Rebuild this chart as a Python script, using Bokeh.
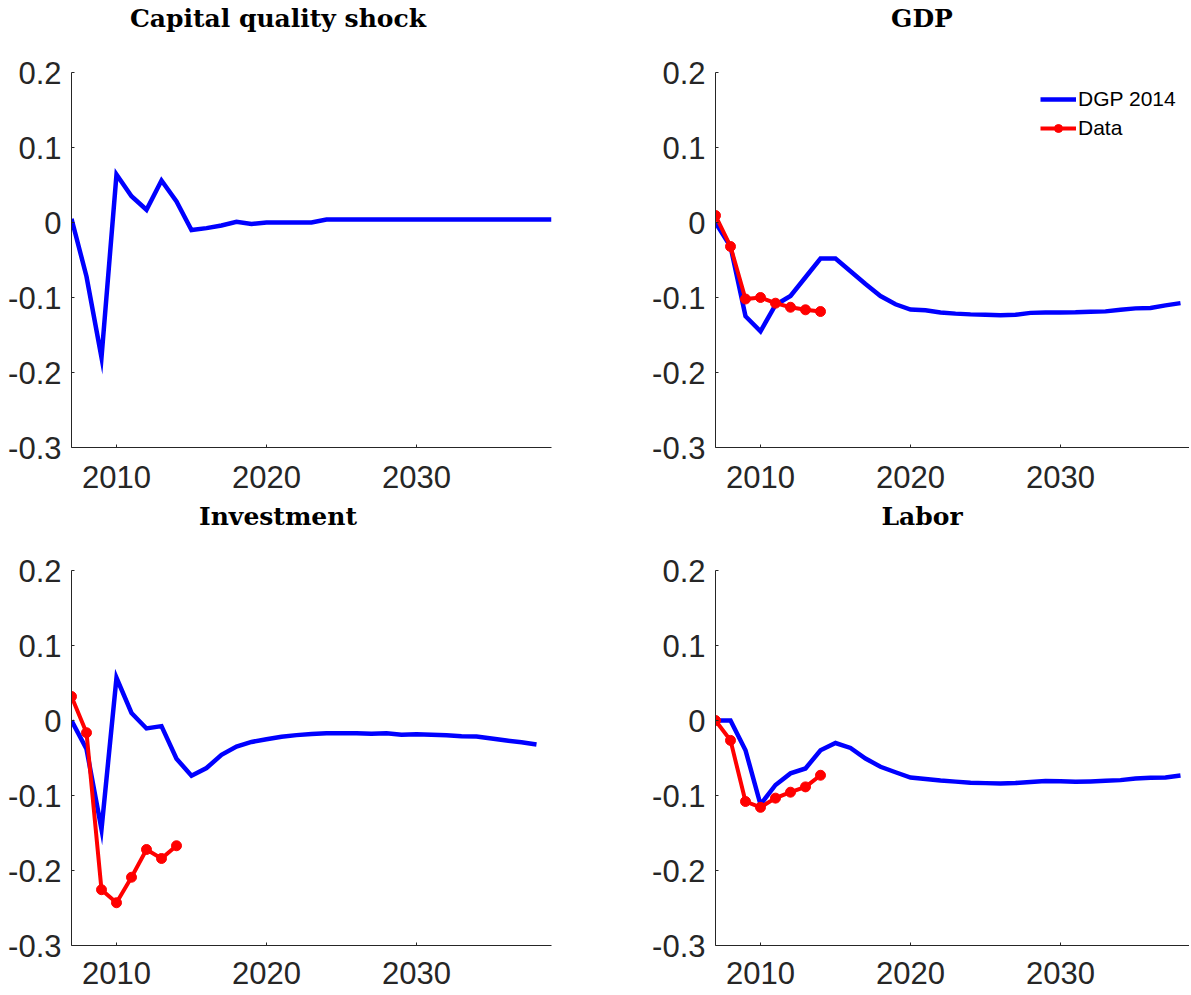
from bokeh.plotting import figure
from bokeh.models import Range1d, FixedTicker, Legend, LegendItem, Label
from bokeh.layouts import column, row
from bokeh.embed import file_html
from bokeh.resources import INLINE

# ---------------- data ----------------
years_model = list(range(2007, 2040))          # 2007 .. 2039
years_data = [2007, 2008, 2009, 2010, 2011, 2012, 2013, 2014]

shock_model = [0.005, -0.072, -0.18, 0.064, 0.035, 0.017, 0.056, 0.028,
               -0.010, -0.0075, -0.004, 0.001, -0.002, 0.0, 0.0, 0.0, 0.0,
               0.004, 0.004, 0.004, 0.004, 0.004, 0.004, 0.004, 0.004,
               0.004, 0.004, 0.004, 0.004, 0.004, 0.004, 0.004, 0.004]

gdp_model = [0.0, -0.032, -0.125, -0.145, -0.110, -0.098, -0.073, -0.048,
             -0.048, -0.065, -0.082, -0.098, -0.109, -0.116, -0.117, -0.120,
             -0.1215, -0.1225, -0.123, -0.1235, -0.123, -0.1205, -0.120, -0.120,
             -0.1198, -0.119, -0.1185, -0.1162, -0.1145, -0.114, -0.1105, -0.1075]

inv_model = [0.0, -0.038, -0.145, 0.057, 0.010, -0.0106, -0.0075, -0.051,
             -0.0736, -0.0634, -0.0458, -0.0348, -0.0286, -0.025, -0.0216, -0.0195,
             -0.018, -0.017, -0.017, -0.017, -0.0175, -0.017, -0.019, -0.0183,
             -0.019, -0.0197, -0.021, -0.0214, -0.024, -0.0267, -0.029, -0.032]

lab_model = [0.0, 0.0, -0.0396, -0.112, -0.086, -0.0705, -0.064, -0.0396,
             -0.030, -0.0366, -0.0507, -0.0617, -0.069, -0.076, -0.078, -0.080,
             -0.0815, -0.083, -0.0835, -0.0839, -0.0834, -0.082, -0.0808, -0.081,
             -0.0817, -0.0812, -0.0804, -0.0795, -0.0772, -0.0764, -0.076, -0.0733]

gdp_data = [0.0093, -0.032, -0.102, -0.100, -0.1076, -0.113, -0.1164, -0.1187]
inv_data = [0.032, -0.0163, -0.2256, -0.243, -0.209, -0.172, -0.184, -0.167]
lab_data = [0.0, -0.0265, -0.108, -0.1158, -0.1035, -0.0956, -0.0885, -0.073]

titles = ["Capital quality shock", "GDP", "Investment", "Labor"]
y_ticks = [-0.3, -0.2, -0.1, 0.0, 0.1, 0.2]
y_tick_labels = ["-0.3", "-0.2", "-0.1", "0", "0.1", "0.2"]
x_ticks = [2010, 2020, 2030]
legend_labels = ["DGP 2014", "Data"]

BLUE = "#0000FF"
RED = "#FF0000"
AXC = "#262626"
TICK_FONT = "Liberation Sans"
TICK_SIZE = "31px"
TITLE_FONT = "DejaVu Serif"
TITLE_SIZE = "25px"

AXIS_H = 375          # pixel height of the -0.3 .. 0.2 axis
Y_MIN, Y_MAX = -0.3, 0.2


def make_panel(idx, right, bottom_row):
    frame_w = 474 if right else 480
    x_end = 2038.6 if right else 2039.0
    bl = 128 if right else 71
    br = 0 if right else 36
    head = 67 if bottom_row else 72      # room above the axis, inside the frame, for the title
    bb = 51 if bottom_row else 56
    frame_h = AXIS_H + head
    y_top = Y_MAX + head * (Y_MAX - Y_MIN) / AXIS_H
    p = figure(width=bl + frame_w + br, height=frame_h + bb,
               x_range=Range1d(2007, x_end), y_range=Range1d(Y_MIN, y_top),
               output_backend="svg", toolbar_location=None,
               min_border_left=bl, min_border_right=br,
               min_border_top=0, min_border_bottom=bb)
    p.title_location = None
    p.outline_line_color = None
    p.grid.visible = False
    p.background_fill_color = "white"
    p.border_fill_color = "white"

    p.yaxis.ticker = FixedTicker(ticks=y_ticks)
    p.yaxis.bounds = (Y_MIN, Y_MAX)
    p.yaxis.major_label_overrides = {t: s for t, s in zip(y_ticks, y_tick_labels)}
    p.xaxis.ticker = FixedTicker(ticks=x_ticks)
    for ax in (p.xaxis[0], p.yaxis[0]):
        ax.axis_line_color = AXC
        ax.axis_line_width = 1
        ax.major_tick_line_color = AXC
        ax.major_tick_in = 3
        ax.major_tick_out = 0
        ax.minor_tick_line_color = None
        ax.major_label_text_font = TICK_FONT
        ax.major_label_text_font_size = TICK_SIZE
        ax.major_label_text_color = AXC
    p.yaxis.major_label_standoff = 10
    p.xaxis.major_label_standoff = 16 if bottom_row else 18

    p.add_layout(Label(x=206.5, y=AXIS_H + 54.5, x_units="screen", y_units="screen",
                       text=titles[idx], text_align="center", text_baseline="alphabetic",
                       text_font=TITLE_FONT, text_font_style="bold",
                       text_font_size=TITLE_SIZE, text_color="#000000"))
    return p


def add_model(p, years, vals):
    return p.line(years, vals, line_width=4.5, line_color=BLUE, line_join="miter")


def add_data(p, years, vals):
    rl = p.line(years, vals, line_width=4, line_color=RED, line_join="miter")
    rs = p.scatter(years, vals, size=10, fill_color=RED, line_color=RED, marker="circle")
    return rl, rs


p1 = make_panel(0, False, False)
add_model(p1, years_model, shock_model)

p2 = make_panel(1, True, False)
b2 = add_model(p2, years_model[:-1], gdp_model)
r2l, r2s = add_data(p2, years_data, gdp_data)
legend = Legend(items=[LegendItem(label=legend_labels[0], renderers=[b2]),
                       LegendItem(label=legend_labels[1], renderers=[r2l, r2s])],
                location=(325, 307), orientation="vertical",
                glyph_width=36, glyph_height=20, label_height=20,
                label_standoff=2, spacing=5, padding=0, margin=0,
                border_line_alpha=0, background_fill_alpha=0,
                label_text_font="Liberation Sans", label_text_font_size="21px",
                label_text_color="#000000", label_text_baseline="middle")
p2.add_layout(legend)

p3 = make_panel(2, False, True)
add_model(p3, years_model[:-1], inv_model)
add_data(p3, years_data, inv_data)

p4 = make_panel(3, True, True)
add_model(p4, years_model[:-1], lab_model)
add_data(p4, years_data, lab_data)

layout = column(row(p1, p2), row(p3, p4))
open("out.html", "w").write(file_html(layout, INLINE))
